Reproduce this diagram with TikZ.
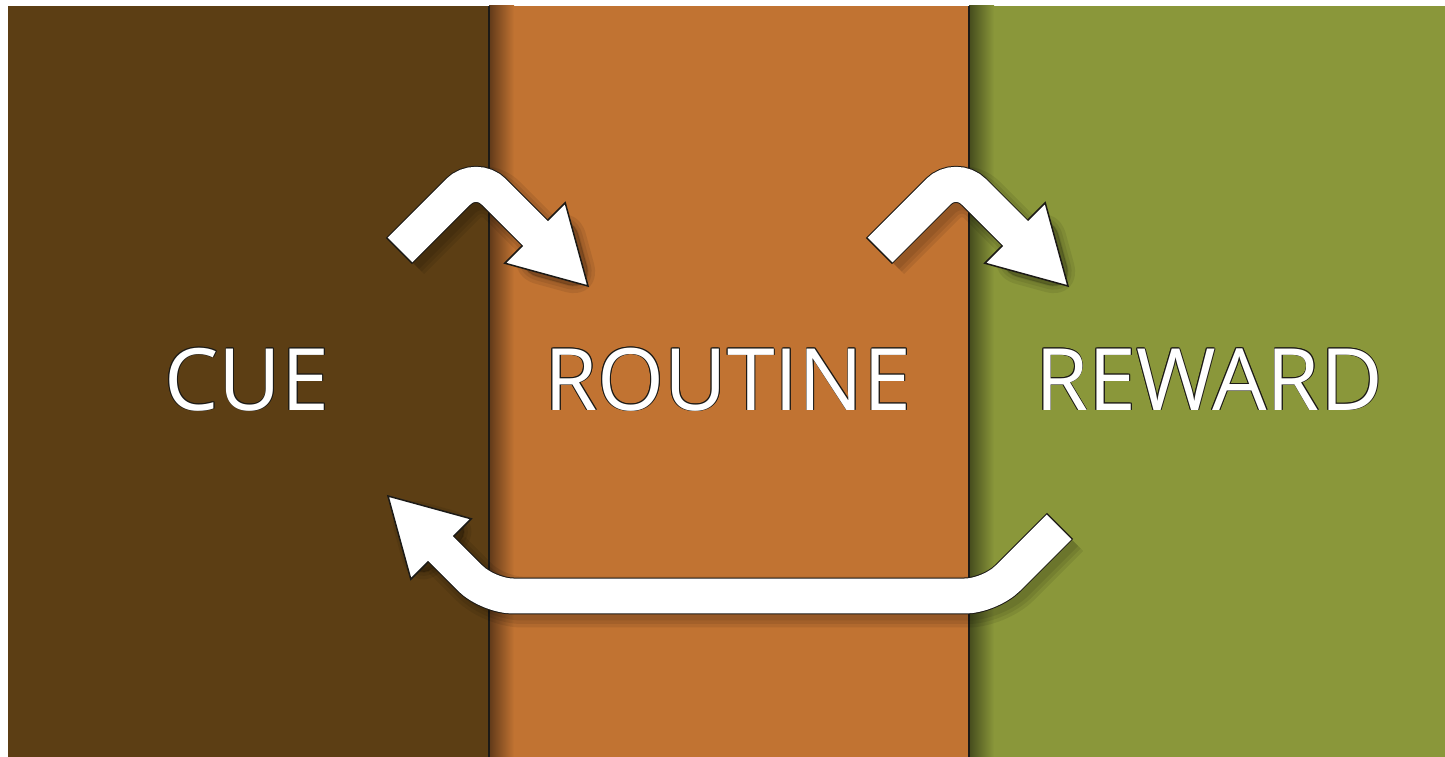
\documentclass[tikz,border=0pt]{standalone}
\usepackage{fontspec}
\newfontfamily\cardfont{Open Sans}
\usetikzlibrary{calc}

\definecolor{cuebrown}{HTML}{5C3E14}
\definecolor{routineorange}{HTML}{C17332}
\definecolor{rewardgreen}{HTML}{8A973A}
\definecolor{rimgray}{HTML}{1C1A16}

% white letters with a thin dark rim
\newcommand{\rimtext}[1]{\leavevmode
  \rlap{\color{rimgray}\kern-0.5pt#1}%
  \rlap{\color{rimgray}\kern0.5pt#1}%
  \rlap{\color{rimgray}\raisebox{0.5pt}{#1}}%
  \rlap{\color{rimgray}\raisebox{-0.5pt}{#1}}%
  \rlap{\color{rimgray}\kern-0.4pt\raisebox{0.4pt}{#1}}%
  \rlap{\color{rimgray}\kern0.4pt\raisebox{0.4pt}{#1}}%
  \rlap{\color{rimgray}\kern-0.4pt\raisebox{-0.4pt}{#1}}%
  \rlap{\color{rimgray}\kern0.4pt\raisebox{-0.4pt}{#1}}%
  #1}

\begin{document}
\begin{tikzpicture}[x=0.02cm, y=-0.02cm,
  divider/.style={draw=rimgray, line width=0.03cm},
  word/.style={text=white, font=\cardfont\fontsize{49}{58}\selectfont, anchor=base, inner sep=0pt},
  haze/.style={draw=black, opacity=0.08, line join=round, rounded corners=0.56cm,
    transform canvas={shift={(0.12cm,-0.12cm)}}},
  rim/.style={draw=rimgray, line width=0.74cm, rounded corners=0.5cm},
  shaft/.style={draw=white, line width=0.70cm, rounded corners=0.5cm},
  head/.style={fill=white, draw=rimgray, line width=0.03cm, line join=miter}]

\useasboundingbox (0,0) rectangle (1445,757);

% Panels
\fill[cuebrown] (8,6) rectangle (489,757);
\fill[routineorange] (489,6) rectangle (969,757);
\fill[rewardgreen] (969,6) rectangle (1445,757);

% Panel shadows and edges
\shade[left color=routineorange!50!black, right color=routineorange] (489,6) rectangle (514,757);
\shade[left color=rewardgreen!50!black, right color=rewardgreen] (969,6) rectangle (994,757);
\draw[divider] (489,6) -- (489,757);
\draw[divider] (969,6) -- (969,757);

% Labels
\node[word] (cue) at (247,410) {\rimtext{CUE}};
\node[word] (routine) at (728,410) {\rimtext{ROUTINE}};
\node[word] (reward) at (1209,410) {\rimtext{REWARD}};

% Hop arrows, cue -> routine -> reward
\foreach \n/\dx in {1/0, 2/480} {
  \coordinate (hop\n tail) at (400+\dx,250);
  \coordinate (hop\n bend) at (476+\dx,174);
  \coordinate (hop\n base) at (535+\dx,233);
  \coordinate (hop\n tip)  at (588+\dx,286);
  \coordinate (hop\n left)  at ($(hop\n base)!0.57!90:(hop\n tip)$);
  \coordinate (hop\n right) at ($(hop\n base)!0.57!-90:(hop\n tip)$);
}

\foreach \n in {1,2} {
  \foreach \w in {1.02,0.88,0.74}
    \draw[haze, line width=\w cm] (hop\n tail) -- (hop\n bend) -- (hop\n base);
  \foreach \w in {0.30,0.16,0.04}
    \filldraw[haze, line width=\w cm] (hop\n left) -- (hop\n tip) -- (hop\n right) -- cycle;
  \draw[rim] ($(hop\n tail)!-0.03cm!(hop\n bend)$) -- (hop\n bend) -- (hop\n base);
  \filldraw[head] (hop\n left) -- (hop\n tip) -- (hop\n right) -- cycle;
  \draw[shaft] (hop\n tail) -- (hop\n bend) -- ($(hop\n base)!0.06cm!(hop\n tip)$);
}

% Return arrow, reward -> cue
\coordinate (backtail) at (1059,527);
\coordinate (backbendR) at (990,596);
\coordinate (backbendL) at (488,596);
\coordinate (backbase) at (441,549);
\coordinate (backtip) at (388,496);
\coordinate (backleft)  at ($(backbase)!0.57!90:(backtip)$);
\coordinate (backright) at ($(backbase)!0.57!-90:(backtip)$);

\foreach \w in {1.02,0.88,0.74}
  \draw[haze, line width=\w cm] (backtail) -- (backbendR) -- (backbendL) -- (backbase);
\foreach \w in {0.30,0.16,0.04}
  \filldraw[haze, line width=\w cm] (backleft) -- (backtip) -- (backright) -- cycle;
\draw[rim] ($(backtail)!-0.03cm!(backbendR)$) -- (backbendR) -- (backbendL) -- (backbase);
\filldraw[head] (backleft) -- (backtip) -- (backright) -- cycle;
\draw[shaft] (backtail) -- (backbendR) -- (backbendL) -- ($(backbase)!0.06cm!(backtip)$);

\end{tikzpicture}
\end{document}
